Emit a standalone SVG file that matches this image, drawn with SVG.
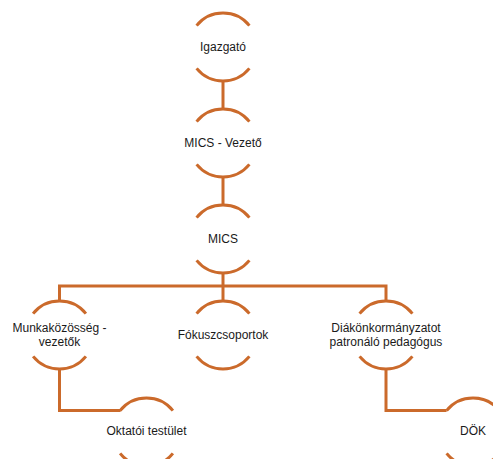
<svg xmlns="http://www.w3.org/2000/svg" xmlns:xlink="http://www.w3.org/1999/xlink" width="493" height="459" viewBox="0 0 493 459">
<style>
.arc{fill:none;stroke:#CB6A2B;stroke-width:3;stroke-linecap:butt}
.con{fill:none;stroke:#CB6A2B;stroke-width:3}
.lbl{font-family:"Liberation Sans",Arial,sans-serif;font-size:12px;fill:#1a1a1a;text-anchor:middle}
</style>
<defs>
<g id="arcs" class="arc">
<path d="M-26.4,-21.4 A34,34 0 0 1 26.4,-21.4"/>
<path d="M26.4,21.4 A34,34 0 0 1 -26.4,21.4"/>
</g>
</defs>
<rect width="493" height="459" fill="#ffffff"/>
<g id="connectors" class="con">
<line x1="223" y1="81" x2="223" y2="109"/>
<line x1="223" y1="177" x2="223" y2="205"/>
<line x1="223" y1="273" x2="223" y2="301"/>
<polyline points="59.5,301 59.5,286 386,286 386,301"/>
<polyline points="59.5,369 59.5,410.6 120.6,410.6"/>
<polyline points="386,369 386,410.6 446.6,410.6"/>
</g>
<g id="node-igazgato">
<use xlink:href="#arcs" x="223" y="47"/>
<text class="lbl" x="223" y="51">Igazgató</text>
</g>
<g id="node-mics-vezeto">
<use xlink:href="#arcs" x="223" y="143"/>
<text class="lbl" x="223" y="147">MICS - Vezető</text>
</g>
<g id="node-mics">
<use xlink:href="#arcs" x="223" y="239"/>
<text class="lbl" x="223" y="243">MICS</text>
</g>
<g id="node-munkakozosseg">
<use xlink:href="#arcs" x="59.5" y="335"/>
<text class="lbl" x="59.5" y="332">Munkaközösség -</text>
<text class="lbl" x="59.5" y="346">vezetők</text>
</g>
<g id="node-fokuszcsoportok">
<use xlink:href="#arcs" x="223" y="335"/>
<text class="lbl" x="223" y="339">Fókuszcsoportok</text>
</g>
<g id="node-diakonkormanyzat">
<use xlink:href="#arcs" x="386" y="335"/>
<text class="lbl" x="386" y="332">Diákönkormányzatot</text>
<text class="lbl" x="386" y="346">patronáló pedagógus</text>
</g>
<g id="node-oktatoi">
<use xlink:href="#arcs" x="146.5" y="432"/>
<text class="lbl" x="146.5" y="435">Oktatói testület</text>
</g>
<g id="node-dok">
<use xlink:href="#arcs" x="473" y="432"/>
<text class="lbl" x="473" y="435">DÖK</text>
</g>
</svg>
